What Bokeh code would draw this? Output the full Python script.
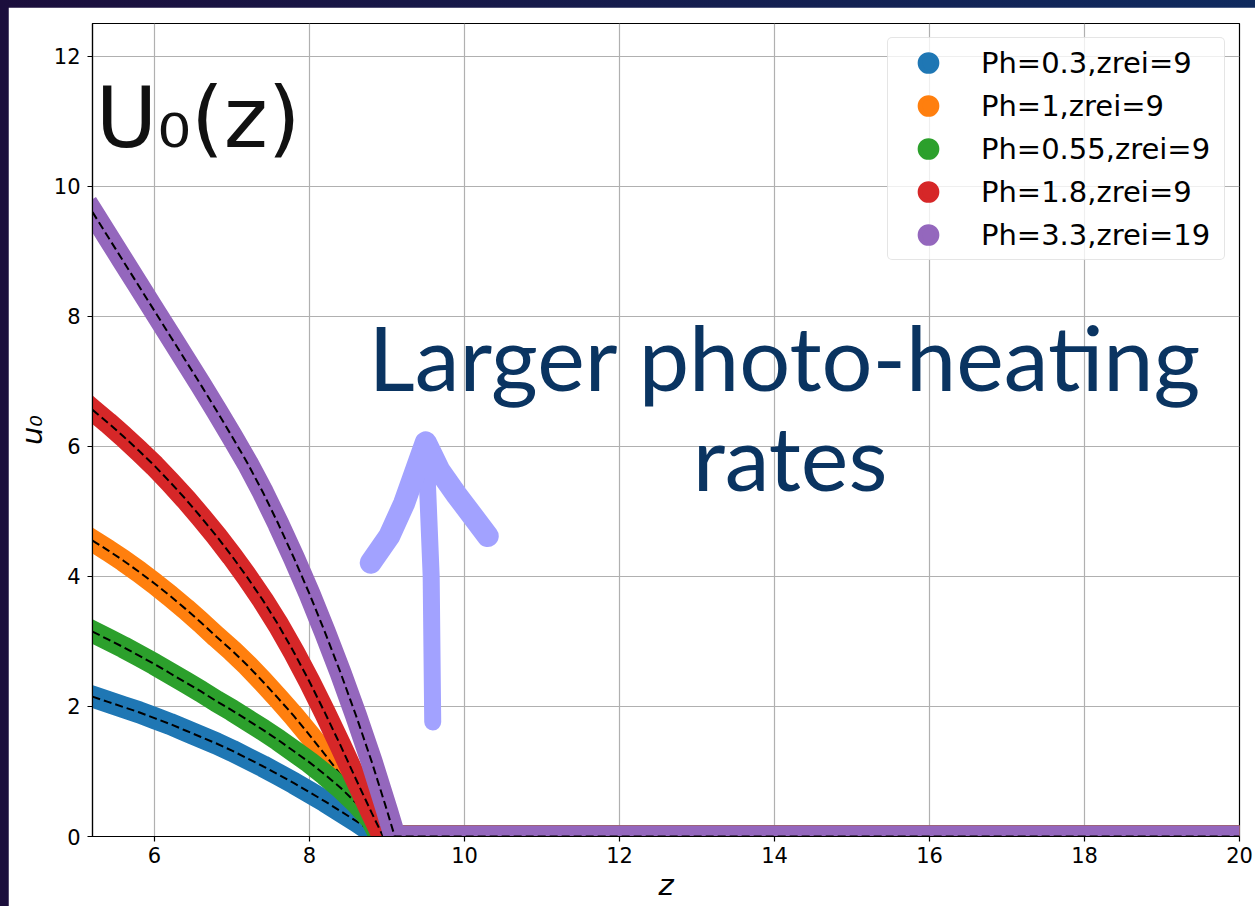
from bokeh.plotting import figure
from bokeh.models import FixedTicker, Legend, LegendItem, Label, Range1d
from bokeh.embed import file_html
from bokeh.resources import INLINE

# ---------------- data ----------------
z_ph03 = [5.2, 5.4, 5.6, 5.8, 6.0, 6.2, 6.4, 6.6, 6.8, 7.0, 7.2, 7.4, 7.6, 7.8,
          8.0, 8.2, 8.4, 8.6, 8.8, 8.88, 20.0]
u_ph03 = [2.15, 2.07, 1.99, 1.91, 1.82, 1.73, 1.63, 1.53, 1.43, 1.32, 1.20, 1.08,
          0.95, 0.82, 0.68, 0.54, 0.39, 0.24, 0.08, 0.0, 0.0]

z_ph1 = [5.2, 5.4, 5.6, 5.8, 6.0, 6.2, 6.4, 6.6, 6.8, 7.0, 7.2, 7.4, 7.6, 7.8,
         8.0, 8.2, 8.4, 8.6, 8.8, 8.93, 20.0]
u_ph1 = [4.55, 4.40, 4.24, 4.07, 3.89, 3.70, 3.50, 3.29, 3.07, 2.86, 2.63, 2.38,
         2.12, 1.85, 1.56, 1.26, 0.95, 0.63, 0.29, 0.0, 0.0]

z_ph055 = [5.2, 5.4, 5.6, 5.8, 6.0, 6.2, 6.4, 6.6, 6.8, 7.0, 7.2, 7.4, 7.6, 7.8,
           8.0, 8.2, 8.4, 8.6, 8.8, 8.91, 20.0]
u_ph055 = [3.15, 3.03, 2.91, 2.78, 2.65, 2.51, 2.37, 2.23, 2.08, 1.94, 1.79, 1.64,
           1.48, 1.31, 1.14, 0.95, 0.75, 0.52, 0.26, 0.0, 0.0]

z_ph18 = [5.2, 5.4, 5.6, 5.8, 6.0, 6.2, 6.4, 6.6, 6.8, 7.0, 7.2, 7.4, 7.6, 7.8,
          8.0, 8.2, 8.4, 8.6, 8.8, 8.95, 20.0]
u_ph18 = [6.56, 6.36, 6.15, 5.93, 5.70, 5.45, 5.19, 4.91, 4.62, 4.31, 3.98, 3.63,
          3.25, 2.83, 2.38, 1.90, 1.40, 0.88, 0.37, 0.0, 0.0]

z_ph33 = [5.2, 5.4, 5.6, 5.8, 6.0, 6.2, 6.4, 6.6, 6.8, 7.0, 7.2, 7.4, 7.6, 7.8,
          8.0, 8.2, 8.4, 8.6, 8.8, 9.0, 9.1, 20.0]
u_ph33 = [9.60, 9.22, 8.84, 8.46, 8.08, 7.70, 7.32, 6.94, 6.55, 6.15, 5.74, 5.29,
          4.80, 4.28, 3.73, 3.14, 2.52, 1.86, 1.16, 0.40, 0.0, 0.0]

labels = ["Ph=0.3,zrei=9", "Ph=1,zrei=9", "Ph=0.55,zrei=9", "Ph=1.8,zrei=9", "Ph=3.3,zrei=19"]
colors = ["#1f77b4", "#ff7f0e", "#2ca02c", "#d62728", "#9467bd"]
series_z = [z_ph03, z_ph1, z_ph055, z_ph18, z_ph33]
series_u = [u_ph03, u_ph1, u_ph055, u_ph18, u_ph33]

x_ticks = [6, 8, 10, 12, 14, 16, 18, 20]
y_ticks = [0, 2, 4, 6, 8, 10, 12]

# annotation arrow (data coordinates)
arrow_shaft_z = [9.59, 9.57, 9.50]
arrow_shaft_u = [1.76, 4.0, 6.06]
arrow_head_z = [8.79, 9.03, 9.22, 9.50, 9.68, 9.90, 10.30]
arrow_head_u = [4.21, 4.62, 5.12, 6.06, 5.62, 5.25, 4.62]

# ---------------- figure ----------------
p = figure(width=1247, height=899, title=None,
           x_range=Range1d(5.2, 20), y_range=Range1d(0, 12.5),
           output_backend="svg", toolbar_location=None,
           min_border_left=84, min_border_right=16,
           min_border_top=16, min_border_bottom=70)

p.background_fill_color = "white"
p.border_fill_color = "white"
p.outline_line_color = "black"
p.outline_line_width = 1.2
p.outline_line_alpha = 1.0

p.xaxis.ticker = FixedTicker(ticks=x_ticks)
p.yaxis.ticker = FixedTicker(ticks=y_ticks)
p.grid.grid_line_color = "#b0b0b0"
p.grid.grid_line_width = 1.2

for ax in (p.xaxis, p.yaxis):
    ax.axis_line_color = "black"
    ax.axis_line_width = 1.2
    ax.major_tick_line_color = "black"
    ax.major_tick_line_width = 1.2
    ax.major_tick_out = 5
    ax.major_tick_in = 0
    ax.minor_tick_line_color = None
    ax.major_label_text_font = "DejaVu Sans"
    ax.major_label_text_font_size = "21px"
    ax.major_label_text_color = "black"
    ax.axis_label_text_font = "DejaVu Sans"
    ax.axis_label_text_font_size = "29px"
    ax.axis_label_text_font_style = "italic"
    ax.axis_label_text_color = "black"
    ax.axis_label_standoff = 2

p.xaxis.axis_label = "z"
p.yaxis.axis_label = "u₀"
p.xaxis.major_label_standoff = 5
p.yaxis.major_label_standoff = 7

# curves
for zs, us, c in zip(series_z, series_u, colors):
    p.line(zs, us, line_width=22, line_color=c, line_cap="square", line_join="round")
    p.line(zs, us, line_width=2, line_color="black", line_dash="8 4")

# arrow
arrow_color = "#a2a2ff"
p.line(arrow_shaft_z, arrow_shaft_u, line_width=17, line_color=arrow_color,
       line_cap="round", line_join="round")
p.line(arrow_head_z, arrow_head_u, line_width=22, line_color=arrow_color,
       line_cap="round", line_join="round")

# legend (dummy circle renderers placed outside the visible range)
items = []
for lab, c in zip(labels, colors):
    r = p.scatter([-10], [-10], marker="circle", size=10, fill_color=c,
                  line_color=c, line_width=4.5)
    items.append(LegendItem(label=lab, renderers=[r]))

legend = Legend(items=items, location="top_right", margin=14, padding=3,
                spacing=0, glyph_width=74, glyph_height=43,
                label_standoff=16, label_width=240, label_height=43,
                label_text_font="DejaVu Sans", label_text_font_size="29px",
                label_text_color="black",
                border_line_color="#cccccc", border_line_width=1,
                background_fill_color="white", background_fill_alpha=0.8)
if "border_radius" in Legend.properties():
    legend.border_radius = 5
p.add_layout(legend)

# texts
p.add_layout(Label(x=5.243, y=11.04, text="U₀(z)", text_font="DejaVu Sans",
                   text_font_size="84px", text_color="#111111",
                   text_align="left", text_baseline="alphabetic"))
p.add_layout(Label(x=14.14, y=7.39, text="Larger photo-heating", text_font="Lato",
                   text_font_size="90px", text_color="#0a3461",
                   text_align="center", text_baseline="alphabetic"))
p.add_layout(Label(x=14.2, y=5.85, text="rates", text_font="Lato",
                   text_font_size="90px", text_color="#0a3461",
                   text_align="center", text_baseline="alphabetic"))

html = file_html(p, INLINE, title="u0(z)")
idx = html.rfind("<body")
end = html.index(">", idx)
html = (html[:idx]
        + '<body style="margin:0;padding:7px 0 0 8px;overflow:hidden;'
          'background:linear-gradient(90deg,#1b0e3c,#0f2a5e);">'
        + html[end + 1:])
open("out.html", "w").write(html)
